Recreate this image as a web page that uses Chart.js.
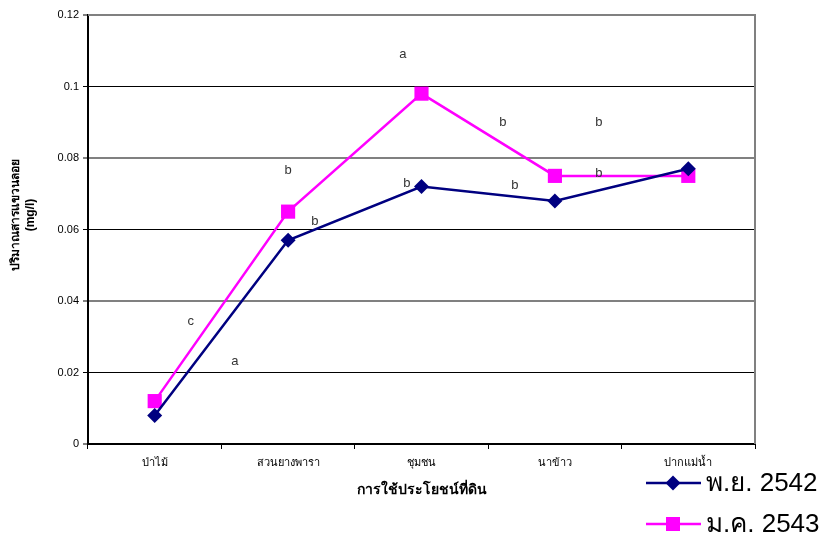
<!DOCTYPE html>
<html>
<head>
<meta charset="utf-8">
<script src="https://cdn.jsdelivr.net/npm/chart.js@4/dist/chart.umd.min.js"></script>
<style>
  html, body { margin: 0; padding: 0; background: #fff; }
  #wrap { width: 823px; height: 537px; }
</style>
</head>
<body>
<div id="wrap"><canvas id="c" width="823" height="537"></canvas></div>
<script>
// Land-use categories along the x axis
const categories = ['ป่าไม้', 'สวนยางพารา', 'ชุมชน', 'นาข้าว', 'ปากแม่น้ำ'];

// Suspended solids (mg/l) per sampling period
const seriesNov2542 = [0.008, 0.057, 0.072, 0.068, 0.077];
const seriesJan2543 = [0.012, 0.065, 0.098, 0.075, 0.075];

const seriesNames = ['พ.ย. 2542', 'ม.ค. 2543'];

// Y axis ticks
const yTickValues = [0, 0.02, 0.04, 0.06, 0.08, 0.1, 0.12];
const yTickLabels = ['0', '0.02', '0.04', '0.06', '0.08', '0.1', '0.12'];

// Significance letters: text, category position, value position
const sigLetters = ['a', 'b', 'b', 'b', 'b', 'b', 'b', 'b', 'c', 'a'];
const sigCategoryPos = [1.86, 2.61, 3.33, 1.00, 3.33, 1.89, 2.70, 1.20, 0.27, 0.60];
const sigValuePos = [0.109, 0.090, 0.090, 0.0766, 0.0756, 0.0729, 0.0722, 0.0622, 0.0342, 0.0230];

const axisTitleY = ['ปริมาณสารแขวนลอย', '(mg/l)'];
const axisTitleX = 'การใช้ประโยชน์ที่ดิน';

const FONT = '"Liberation Sans", Arial, "Noto Sans", "DejaVu Sans", sans-serif';

const navy = '#000080';
const magenta = '#FF00FF';

const decorPlugin = {
  id: 'decor',
  beforeDatasetsDraw(chart) {
    const { ctx, chartArea: a } = chart;
    ctx.save();
    // plot frame (top and right)
    ctx.strokeStyle = '#808080';
    ctx.lineWidth = 2;
    ctx.beginPath();
    ctx.moveTo(a.left, a.top);
    ctx.lineTo(a.right, a.top);
    ctx.lineTo(a.right, a.bottom);
    ctx.stroke();
    ctx.restore();
  },
  afterDraw(chart) {
    const { ctx, chartArea: a, scales } = chart;
    ctx.save();
    // significance letters
    ctx.fillStyle = '#333333';
    ctx.font = '13px ' + FONT;
    ctx.textAlign = 'center';
    ctx.textBaseline = 'middle';
    sigLetters.forEach((t, i) => {
      const x = scales.x.getPixelForValue(sigCategoryPos[i]);
      const y = scales.y.getPixelForValue(sigValuePos[i]);
      ctx.fillText(t, x, y);
    });

    // y axis title (rotated, two lines)
    ctx.fillStyle = '#000';
    ctx.save();
    ctx.translate(16, 215);
    ctx.rotate(-Math.PI / 2);
    ctx.font = 'bold 12px ' + FONT;
    ctx.fillText(axisTitleY[0], 0, 0);
    ctx.fillText(axisTitleY[1], 0, 15);
    ctx.restore();

    // x axis title
    ctx.font = 'bold 14px ' + FONT;
    ctx.fillText(axisTitleX, (a.left + a.right) / 2, 490);

    // legend
    const rows = [483, 524];
    chart.data.datasets.forEach((ds, i) => {
      const y = rows[i];
      ctx.strokeStyle = ds.borderColor;
      ctx.lineWidth = 2.5;
      ctx.beginPath();
      ctx.moveTo(646, y);
      ctx.lineTo(701, y);
      ctx.stroke();
      ctx.fillStyle = ds.pointBackgroundColor;
      if (ds.pointStyle === 'rectRot') {
        ctx.beginPath();
        ctx.moveTo(673, y - 7.5);
        ctx.lineTo(680.5, y);
        ctx.lineTo(673, y + 7.5);
        ctx.lineTo(665.5, y);
        ctx.closePath();
        ctx.fill();
      } else {
        ctx.fillRect(666, y - 7, 14, 14);
      }
      ctx.fillStyle = '#000';
      ctx.font = '26px ' + FONT;
      ctx.textAlign = 'left';
      ctx.fillText(ds.label, 706, y + 1);
      ctx.textAlign = 'center';
    });
    ctx.restore();
  }
};

new Chart(document.getElementById('c'), {
  type: 'line',
  data: {
    labels: categories,
    datasets: [
      {
        label: seriesNames[0],
        data: seriesNov2542,
        borderColor: navy,
        backgroundColor: navy,
        pointBackgroundColor: navy,
        pointBorderColor: navy,
        borderWidth: 2.5,
        pointStyle: 'rectRot',
        pointRadius: 7.5,
        pointBorderWidth: 0,
        tension: 0
      },
      {
        label: seriesNames[1],
        data: seriesJan2543,
        borderColor: magenta,
        backgroundColor: magenta,
        pointBackgroundColor: magenta,
        pointBorderColor: magenta,
        borderWidth: 2.5,
        pointStyle: 'rect',
        pointRadius: 10,
        pointBorderWidth: 0,
        tension: 0
      }
    ]
  },
  options: {
    responsive: false,
    animation: false,
    devicePixelRatio: 1,
    layout: { padding: { top: 15, right: 68, left: 0, bottom: 0 } },
    plugins: {
      legend: { display: false },
      tooltip: { enabled: false }
    },
    scales: {
      x: {
        type: 'category',
        offset: true,
        afterFit(scale) { scale.height = 93; },
        border: { display: true, color: '#000', width: 2 },
        grid: {
          offset: true,
          drawOnChartArea: false,
          drawTicks: true,
          tickLength: 5,
          color: '#000',
          lineWidth: 1
        },
        ticks: {
          color: '#000',
          font: { family: FONT, size: 11 },
          padding: 7,
          maxRotation: 0
        }
      },
      y: {
        min: 0,
        max: 0.12,
        afterFit(scale) { scale.width = 88; },
        afterBuildTicks(scale) {
          scale.ticks = yTickValues.map(v => ({ value: v }));
        },
        border: { display: true, color: '#000', width: 2 },
        grid: {
          drawTicks: true,
          tickLength: 5,
          color(ctx) {
            const v = ctx.tick ? ctx.tick.value : 0;
            const idx = yTickValues.indexOf(v);
            return idx % 2 === 0 ? '#808080' : '#000';
          },
          lineWidth(ctx) {
            const v = ctx.tick ? ctx.tick.value : 0;
            const idx = yTickValues.indexOf(v);
            return idx % 2 === 0 ? 2 : 1;
          }
        },
        ticks: {
          color: '#000',
          font: { family: FONT, size: 11 },
          padding: 4,
          callback(value) {
            const idx = yTickValues.indexOf(value);
            return idx >= 0 ? yTickLabels[idx] : '';
          }
        }
      }
    }
  },
  plugins: [decorPlugin]
});
</script>
</body>
</html>
